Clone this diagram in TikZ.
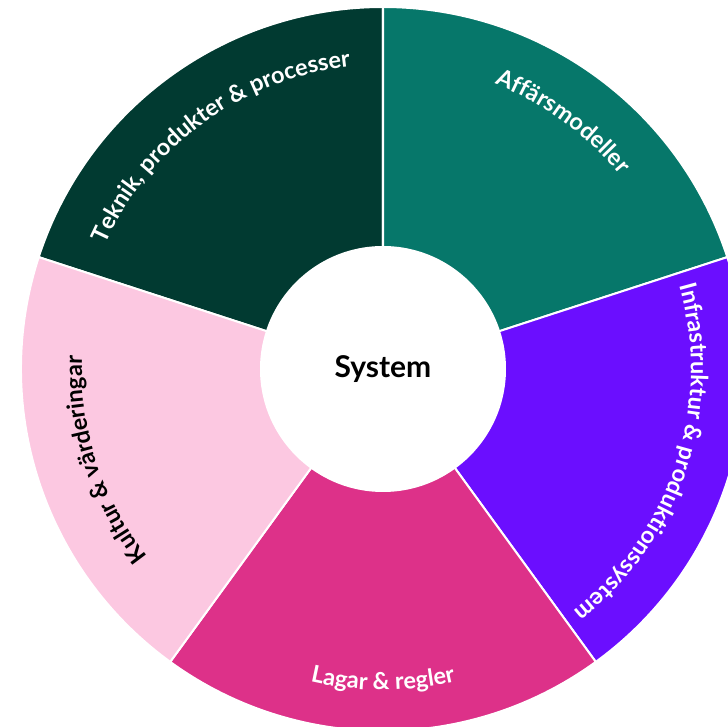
\documentclass[tikz,border=0pt]{standalone}
\usepackage{fontspec}
\setmainfont{Lato}
\usetikzlibrary{decorations.text}

\definecolor{teknik}{RGB}{1,58,49}
\definecolor{affar}{RGB}{6,119,106}
\definecolor{infra}{RGB}{107,14,255}
\definecolor{lagar}{RGB}{221,49,137}
\definecolor{kultur}{RGB}{252,200,225}

\newcommand{\ringfont}{\fontsize{23.5}{26}\selectfont\bfseries} % font of the ring labels

\tikzset{x=1pt, y=1pt, % one unit is one pixel of the picture
  sector/.style={ % Sets the properties for each slice of the ring
    draw=white,
    line width=2pt},
  hub/.style={ % White disc in the middle
    circle,
    fill=white,
    minimum size=246pt,
    font=\fontsize{30}{34}\selectfont\bfseries},
  ringtext/.style={ % Label bent along an arc
    decorate,
    decoration={text along path, text align=center, text color=white, text={#1}}}}

\begin{document}
\begin{tikzpicture}
  \useasboundingbox (-383,-358) rectangle (345,369);
  \foreach \a/\col in {90/teknik, 18/affar, -54/infra, -126/lagar, 162/kultur}
    \draw[sector, fill=\col] (0,0) -- (\a:362) arc[start angle=\a, end angle=\a+72, radius=362] -- cycle;
  \node[hub] (sys) at (0,0) {System};
  \path[ringtext={|\ringfont|Teknik, produkter {\&} processer}] (171:304) arc[start angle=171, end angle=81, radius=304];
  \path[ringtext={|\ringfont|Affärsmodeller}] (94:306) arc[start angle=94, end angle=14, radius=306];
  \path[ringtext={|\ringfont|Infrastruktur {\&} produktionssystem}] (32:308) arc[start angle=32, end angle=-68, radius=308];
  \path[ringtext={|\ringfont|Lagar {\&} regler}] (-130:321) arc[start angle=-130, end angle=-50, radius=321];
  \path[ringtext={|\ringfont|Kultur {\&} värderingar}, decoration={text color=black}] (238:301) arc[start angle=238, end angle=158, radius=301];
\end{tikzpicture}
\end{document}
